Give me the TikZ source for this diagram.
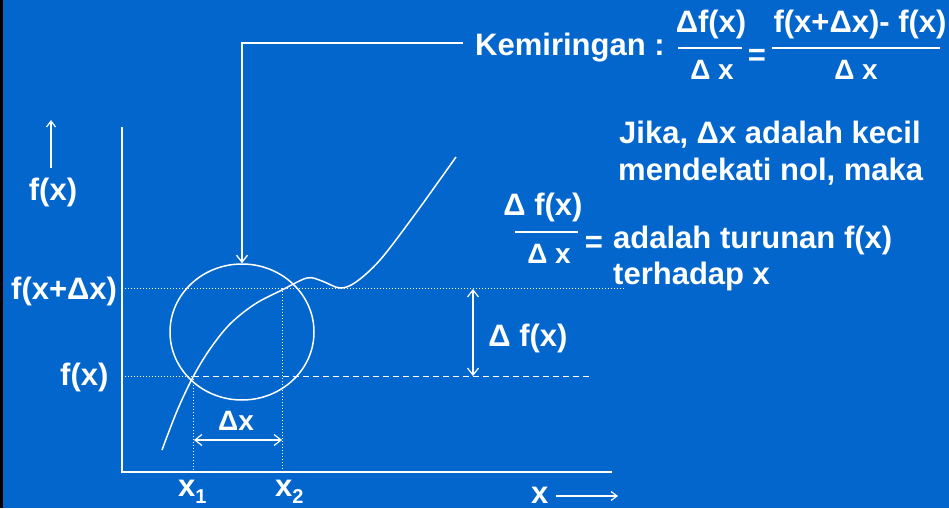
\documentclass[tikz,border=0pt]{standalone}
\usepackage{fontspec}
\setmainfont{Liberation Sans}
\usetikzlibrary{arrows.meta,shapes.geometric}
\definecolor{bg}{RGB}{3,102,204}
\begin{document}
\begin{tikzpicture}[x=1pt,y=-1pt,
  txt/.style={text=white,inner sep=0pt,font=\fontsize{31}{36}\bfseries\selectfont},
  txtm/.style={text=white,inner sep=0pt,font=\fontsize{28}{32}\bfseries\selectfont},
  wl/.style={draw=white,line width=1.5pt},
  axis/.style={draw=white,line width=2.2pt},
  bar/.style={draw=white,line width=1.2pt},
  dotl/.style={draw=white,line width=1pt,dash pattern=on 1.2pt off 1.8pt},
  dashl/.style={draw=white,line width=1pt,dash pattern=on 6pt off 4pt},
  barb/.style={-{Straight Barb[length=7pt,width=11pt]}},
  barbs/.style={{Straight Barb[length=7pt,width=11pt]}-{Straight Barb[length=7pt,width=11pt]}}]
\fill[bg] (0,0) rectangle (949,508);
\fill[black] (0,0) rectangle (3,508);
\useasboundingbox (0,0) rectangle (949,508);

% axes
\coordinate (ytop) at (122,127);
\coordinate (orig) at (122,472);
\coordinate (xend) at (612,472);
\draw[axis] (ytop) -- (orig) -- (xend);

% guide lines
\coordinate (fx2L) at (122,288);
\coordinate (fx2R) at (625,288);
\coordinate (fxL) at (122,376);
\coordinate (x1top) at (193,376);
\coordinate (fxR) at (592,376);
\coordinate (x1bot) at (193,472);
\coordinate (x2top) at (282,288);
\coordinate (x2bot) at (282,472);
\draw[dotl] (fx2L) -- (fx2R);
\draw[dotl] (fxL) -- (x1top);
\draw[dashl] (x1top) -- (fxR);
\draw[dotl] (x1top) -- (x1bot);
\draw[dotl] (x2top) -- (x2bot);

% delta arrows
\coordinate (dxa) at (194,440);
\coordinate (dxb) at (282,440);
\draw[wl,line width=1.2pt,barbs] (dxa) -- (dxb);
\coordinate (dfa) at (473,289);
\coordinate (dfb) at (473,376);
\draw[wl,line width=1.2pt,barbs] (dfa) -- (dfb);

% circle
\node[ellipse,draw=white,line width=1.5pt,minimum width=144pt,minimum height=136pt,inner sep=0pt] (circ) at (242,332) {};

% curve
\draw[wl] plot[smooth,tension=0.55] coordinates {(162,450) (177,411) (193,377) (210,349) (230,324) (255,304) (282,290) (307,278) (322,281) (340,288) (356,282) (380,260) (413,217) (456,157)};

% title and pointer
\node[txt,anchor=base west] (kem) at (475,56) {Kemiringan :};
\coordinate (pstart) at (463,43);
\coordinate (bend) at (242,43);
\draw[wl,line width=1.3pt,barb] (pstart) -- (bend) -- (circ.north);

% fraction 1
\node[txt,anchor=base] (n1) at (711,33) {Δf(x)};
\coordinate (b1a) at (678,48);
\coordinate (b1b) at (742,48);
\draw[bar] (b1a) -- (b1b);
\node[txtm,anchor=base] (d1) at (712,80) {Δ x};
\node[txt,anchor=base] (eq1) at (757,66) {=};
% fraction 2
\node[txt,anchor=base] (n2) at (860,33) {f(x+Δx)- f(x)};
\coordinate (b2a) at (772,48);
\coordinate (b2b) at (940,48);
\draw[bar] (b2a) -- (b2b);
\node[txtm,anchor=base] (d2) at (856,80) {Δ x};

% right text
\node[txt,anchor=base west] (j1) at (619,143) {Jika, Δx adalah kecil};
\node[txt,anchor=base west] (j2) at (618,180) {mendekati nol, maka};
\node[txt,anchor=base] (n3) at (543,215) {Δ f(x)};
\coordinate (b3a) at (515,232);
\coordinate (b3b) at (578,232);
\draw[bar] (b3a) -- (b3b);
\node[txtm,anchor=base] (d3) at (549,263) {Δ x};
\node[txt,anchor=base] (eq3) at (594,252) {=};
\node[txt,anchor=base west] (t1) at (613,248) {adalah turunan f(x)};
\node[txt,anchor=base west] (t2) at (613,284) {terhadap x};

% left labels
\coordinate (ua) at (51,168);
\coordinate (ub) at (51,120);
\draw[wl,line width=1.2pt,-{Straight Barb[length=6pt,width=9pt]}] (ua) -- (ub);
\node[txt,anchor=base] (lfx) at (53,200) {f(x)};
\node[txt,anchor=base west] (lfx2) at (11,299) {f(x+Δx)};
\node[txt,anchor=base west] (lfx1) at (60,385) {f(x)};

% graph labels
\node[txtm,anchor=base] (ldx) at (236,430) {Δx};
\node[txt,anchor=base] (ldf) at (528,346) {Δ f(x)};
\node[txt,anchor=base west] (lx1) at (178,496) {x\raisebox{-7pt}{\fontsize{20}{20}\selectfont 1}};
\node[txt,anchor=base west] (lx2) at (275,496) {x\raisebox{-7pt}{\fontsize{20}{20}\selectfont 2}};
\node[txt,anchor=base west] (lx) at (531,503) {x};
\coordinate (xa) at (556,496);
\coordinate (xb) at (618,496);
\draw[wl,line width=1.2pt,-{Straight Barb[length=6pt,width=9pt]}] (xa) -- (xb);
\end{tikzpicture}
\end{document}
